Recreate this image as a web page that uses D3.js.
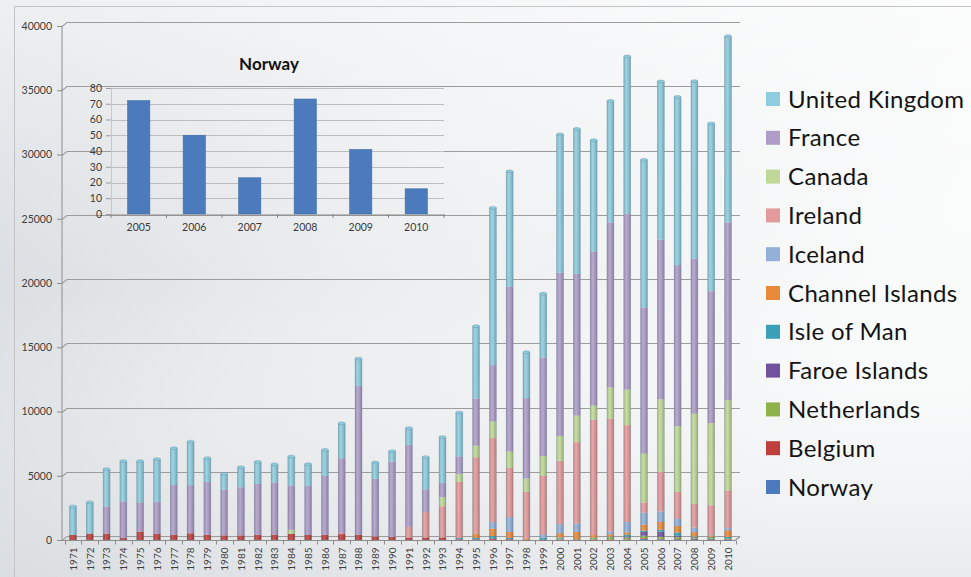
<!DOCTYPE html>
<html>
<head>
<meta charset="utf-8">
<script src="https://cdn.jsdelivr.net/npm/d3@7/dist/d3.min.js"></script>
<style>
  html, body { margin: 0; padding: 0; background: #fff; }
  svg { display: block; }
</style>
</head>
<body>
<svg id="chart" width="971" height="577"></svg>
<script>
// ---------- DATA ----------
const years = d3.range(1971, 2011).map(String);

// series listed bottom-to-top of the stack
const seriesNames = ["Norway","Belgium","Netherlands","Faroe Islands","Isle of Man","Channel Islands","Iceland","Ireland","Canada","France","United Kingdom"];

const norway      = [0,0,0,0,0,0,0,0,0,0, 0,0,0,0,0,0,0,0,0,0, 0,0,0,0,0,0,0,0,0,0, 0,0,0,0,72,50,23,73,41,16];
const belgium     = [390,500,490,150,650,490,410,520,390,360, 360,410,410,490,390,410,460,410,280,230, 200,200,200,50,50,110,60,30,20,30, 30,20,30,40,60,50,50,30,20,40];
const netherlands = [0,0,0,0,0,0,0,0,0,0, 0,0,0,0,0,0,0,0,0,0, 0,0,0,0,0,0,0,0,0,80, 30,120,200,150,200,150,150,80,80,60];
const faroe       = [0,0,0,0,0,0,0,0,0,0, 0,0,0,0,0,0,0,0,0,0, 0,0,0,0,0,0,0,0,0,0, 0,0,0,80,300,400,100,30,0,0];
const isleOfMan   = [0,0,0,0,0,0,0,0,0,0, 0,0,0,0,0,0,0,0,0,0, 0,0,0,100,110,200,100,0,150,80, 0,40,40,150,100,150,250,60,80,120];
const channel     = [0,0,0,0,0,0,0,0,0,0, 0,0,0,0,0,0,0,0,0,0, 0,0,0,0,340,570,460,100,0,340, 570,200,180,180,460,600,520,340,150,520];
const iceland     = [0,0,0,0,0,0,0,0,0,0, 0,0,0,0,0,0,0,0,0,0, 0,0,0,0,0,510,1160,0,270,700, 650,0,200,800,950,820,540,360,80,180];
const ireland     = [0,0,0,0,0,0,0,0,0,0, 0,0,0,0,0,0,100,0,0,0, 820,1980,2420,4390,5940,6540,3820,3630,4550,4930, 6330,8990,8780,7540,780,3100,2120,1830,2250,2920];
const canada      = [0,0,0,0,0,0,0,0,0,0, 0,0,0,310,0,0,0,0,0,0, 0,0,720,600,900,1290,1290,1030,1550,1940, 2070,1090,2450,2760,3800,5630,5110,7030,6400,7030];
const france      = [0,0,2120,2850,2280,2490,3880,3750,4140,3550, 3750,3960,4060,3440,3830,4580,5800,11570,4480,5850, 6380,1760,1090,1370,3670,4390,12840,6250,7670,12700, 11020,12000,12840,13680,11360,12420,12530,12060,10260,13820];
const uk          = [2220,2430,2900,3130,3200,3310,2850,3390,1840,1240, 1550,1710,1420,2250,1680,2020,2720,2140,1270,830, 1300,2510,3570,3410,5630,12240,8960,3570,4960,10770, 11290,8650,9450,12250,11500,12320,13090,13820,13060,14500];

const yTicks = [0,5000,10000,15000,20000,25000,30000,35000,40000];

// inset (Norway)
const insetYears = ["2005","2006","2007","2008","2009","2010"];
const insetValues = [72, 50, 23, 73, 41, 16];
const insetTicks = [0,10,20,30,40,50,60,70,80];

const colors = {
  "United Kingdom": "#8ecde0",
  "France": "#ae9dc8",
  "Canada": "#c0d897",
  "Ireland": "#e39a9a",
  "Iceland": "#93b0d9",
  "Channel Islands": "#e88a3a",
  "Isle of Man": "#3aa0b8",
  "Faroe Islands": "#71529e",
  "Netherlands": "#8fb24a",
  "Belgium": "#be3f3c",
  "Norway": "#4b7bbd"
};

const seriesData = [norway, belgium, netherlands, faroe, isleOfMan, channel, iceland, ireland, canada, france, uk];
const table = years.map((yr, i) => {
  const row = { year: yr };
  seriesNames.forEach((n, k) => row[n] = seriesData[k][i]);
  return row;
});

// ---------- DRAW ----------
const svg = d3.select("#chart");
const defs = svg.append("defs");

// background
const bg = defs.append("linearGradient").attr("id", "bg").attr("x1", "0").attr("y1", "0").attr("x2", "1").attr("y2", "0.35");
bg.append("stop").attr("offset", "0").attr("stop-color", "#d4d8dc");
bg.append("stop").attr("offset", "0.45").attr("stop-color", "#eaecee");
bg.append("stop").attr("offset", "1").attr("stop-color", "#fafbfb");
svg.append("rect").attr("width", 971).attr("height", 577).attr("fill", "url(#bg)");
const bg2 = defs.append("linearGradient").attr("id", "bg2").attr("x1", "0").attr("y1", "0").attr("x2", "0").attr("y2", "1");
bg2.append("stop").attr("offset", "0").attr("stop-color", "#ffffff").attr("stop-opacity", 0.6);
bg2.append("stop").attr("offset", "0.5").attr("stop-color", "#ffffff").attr("stop-opacity", 0.0);
bg2.append("stop").attr("offset", "1").attr("stop-color", "#c9cdd2").attr("stop-opacity", 0.35);
svg.append("rect").attr("width", 971).attr("height", 577).attr("fill", "url(#bg2)");

// outer frame
svg.append("rect").attr("x", 14.5).attr("y", 6.5).attr("width", 980).attr("height", 600)
  .attr("fill", "none").attr("stroke", "#c4c4c4").attr("stroke-width", 1);

// scales
const x = d3.scalePoint().domain(years).range([73, 728]);
const y = d3.scaleLinear().domain([0, 40000]).range([540, 26]);
const step = x.step();
const barW = 7;
const depth = 4;
const axisX = 62;
const gridRight = 740;

// gridlines (back wall) with 3D connector
const grid = svg.append("g");
yTicks.forEach(v => {
  const yy = Math.round(y(v)) + 0.5;
  grid.append("path")
    .attr("d", `M${axisX},${yy} L${axisX + 5},${yy - depth} L${gridRight},${yy - depth}`)
    .attr("fill", "none").attr("stroke", "#9c9c9c").attr("stroke-width", 1.1);
});
// inset chart
const ix = d3.scaleBand().domain(insetYears).range([111, 444]).paddingInner(0.6).paddingOuter(0.3);
const iy = d3.scaleLinear().domain([0, 80]).range([214, 88]);
const inset = svg.append("g");
inset.append("text").attr("x", 269).attr("y", 70).attr("text-anchor", "middle")
  .attr("font-family", "Lato, 'Open Sans', sans-serif").attr("font-weight", "bold").attr("font-size", 17)
  .attr("fill", "#111").text("Norway");
insetTicks.forEach(v => {
  if (v === 0) return;
  inset.append("line").attr("x1", 111).attr("x2", 444).attr("y1", Math.round(iy(v)) + 0.5).attr("y2", Math.round(iy(v)) + 0.5)
    .attr("stroke", "#bdbdbd").attr("stroke-width", 1);
});
const iyAxis = inset.append("g").attr("transform", "translate(111,0)")
  .call(d3.axisLeft(iy).tickValues(insetTicks).tickSize(5).tickPadding(4));
iyAxis.select(".domain").attr("stroke", "#c8c8c8");
iyAxis.selectAll(".tick line").attr("stroke", "#9a9a9a");
iyAxis.selectAll("text").attr("font-family", "Lato, 'Open Sans', sans-serif").attr("font-size", 10.5).attr("fill", "#3a3a3a");
inset.selectAll("rect.nb").data(insetValues).join("rect").attr("class", "nb")
  .attr("x", (d, i) => ix(insetYears[i])).attr("width", ix.bandwidth())
  .attr("y", d => iy(d)).attr("height", d => iy(0) - iy(d))
  .attr("fill", colors["Norway"]).attr("stroke", "#3f6ea8").attr("stroke-width", 0.6);
const ixAxis = inset.append("g").attr("transform", `translate(0,${Math.round(iy(0)) + 0.5})`)
  .call(d3.axisBottom(ix).tickSize(0).tickPadding(9));
ixAxis.select(".domain").attr("stroke", "#8a8a8a");
ixAxis.selectAll("text").attr("font-family", "Lato, 'Open Sans', sans-serif").attr("font-size", 10.5).attr("fill", "#3a3a3a");
const iStep = ix.step();
d3.range(insetYears.length + 1).forEach(k => {
  const xx = ix(insetYears[0]) - ix.paddingInner() * iStep / 2 + k * iStep;
  inset.append("line").attr("x1", xx).attr("x2", xx).attr("y1", iy(0)).attr("y2", iy(0) + 4)
    .attr("stroke", "#8a8a8a");
});

// floor / x axis
const floorY = Math.round(y(0)) + 0.5;
svg.append("path")
  .attr("d", `M${axisX},${floorY} L${gridRight - 5},${floorY} L${gridRight},${floorY - depth}`)
  .attr("fill", "none").attr("stroke", "#8d8d8d").attr("stroke-width", 1.1);
const yAxis = svg.append("g").attr("transform", `translate(${axisX},0)`)
  .call(d3.axisLeft(y).tickValues(yTicks).tickSize(5).tickPadding(5).tickFormat(d3.format("d")));
yAxis.select(".domain").attr("stroke", "#8d8d8d").attr("d", `M0,${y(40000)}V${y(0)}`);
yAxis.selectAll(".tick line").attr("stroke", "#8d8d8d");
yAxis.selectAll("text").attr("font-family", "Lato, 'Open Sans', sans-serif").attr("font-size", 10.5).attr("fill", "#3d3d3d");

years.concat(["end"]).forEach((yr, k) => {
  const xx = Math.round(x(years[0]) - step / 2 + k * step) + 0.5;
  svg.append("line").attr("x1", xx).attr("x2", xx).attr("y1", floorY).attr("y2", floorY + 4)
    .attr("stroke", "#8d8d8d");
});
const xAxis = svg.append("g").attr("transform", `translate(0,${floorY})`)
  .call(d3.axisBottom(x).tickSize(0).tickPadding(0));
xAxis.select(".domain").remove();
xAxis.selectAll("text")
  .attr("font-family", "Lato, 'Open Sans', sans-serif").attr("font-size", 10).attr("fill", "#3d3d3d")
  .attr("text-anchor", "end").attr("dy", "0.33em")
  .attr("transform", "translate(0,7) rotate(-90)");

// stacked bars
const stack = d3.stack().keys(seriesNames);
const layers = stack(table);
const barsG = svg.append("g");
layers.forEach(layer => {
  const c = colors[layer.key];
  barsG.append("g").selectAll("rect").data(layer.filter(d => d[1] - d[0] > 0)).join("rect")
    .attr("x", d => x(d.data.year) - barW / 2)
    .attr("width", barW)
    .attr("y", d => y(d[1]))
    .attr("height", d => Math.max(0.6, y(d[0]) - y(d[1])))
    .attr("fill", c);
});
const shade = defs.append("linearGradient").attr("id", "shade").attr("x1", "0").attr("x2", "1");
shade.append("stop").attr("offset", "0").attr("stop-color", "#000").attr("stop-opacity", 0.18);
shade.append("stop").attr("offset", "0.35").attr("stop-color", "#fff").attr("stop-opacity", 0.12);
shade.append("stop").attr("offset", "1").attr("stop-color", "#000").attr("stop-opacity", 0.22);
const totals = layers[layers.length - 1];
barsG.append("g").selectAll("rect").data(totals).join("rect")
  .attr("x", d => x(d.data.year) - barW / 2).attr("width", barW)
  .attr("y", d => y(d[1])).attr("height", d => y(0) - y(d[1]))
  .attr("fill", "url(#shade)").attr("stroke", "#6f8f9c").attr("stroke-opacity", 0.45).attr("stroke-width", 0.6);
barsG.append("g").selectAll("ellipse").data(totals).join("ellipse")
  .attr("cx", d => x(d.data.year)).attr("cy", d => y(d[1]))
  .attr("rx", barW / 2).attr("ry", 1.4)
  .attr("fill", d => colors[seriesNames[seriesNames.length - 1 - [...seriesNames].reverse().findIndex(n => d.data[n] > 0)]])
  .attr("stroke", "#5f8796").attr("stroke-opacity", 0.6).attr("stroke-width", 0.6);

// legend
const legendNames = [...seriesNames].reverse();
const lg = svg.append("g");
const ly = d3.scalePoint().domain(legendNames).range([99, 487]);
legendNames.forEach(n => {
  lg.append("rect").attr("x", 766).attr("y", ly(n) - 7).attr("width", 14).attr("height", 14).attr("fill", colors[n]);
  lg.append("text").attr("x", 788).attr("y", ly(n)).attr("dy", "0.36em")
    .attr("font-family", "Lato, 'Open Sans', sans-serif").attr("font-size", 24).attr("letter-spacing", 0.35)
    .attr("fill", "#141414").text(n);
});
</script>
</body>
</html>
